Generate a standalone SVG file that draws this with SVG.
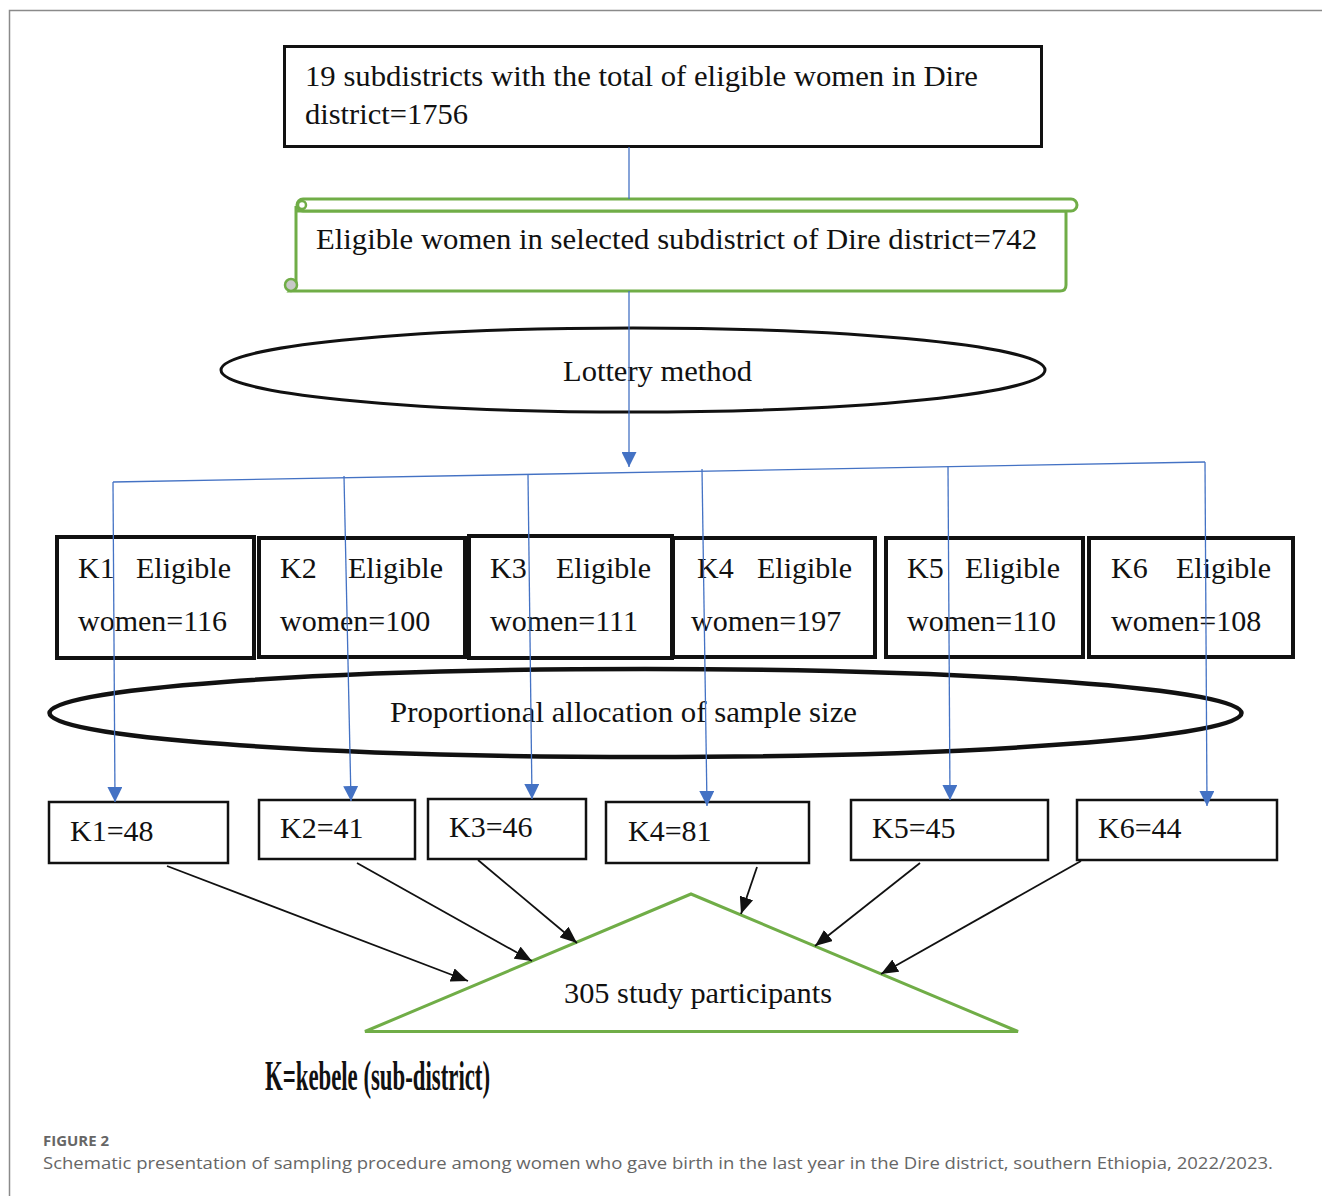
<svg xmlns="http://www.w3.org/2000/svg" width="1322" height="1196" viewBox="0 0 1322 1196">
<defs>
<style>
.t{font-family:"Liberation Serif","Times New Roman",serif;font-size:30px;fill:#111}
.box{fill:#fff;stroke:#111}
.green{fill:#fff;stroke:#70AD47;stroke-width:3}
.blue{stroke:#4472C4;stroke-width:1.3;fill:none}
.blk{stroke:#111;stroke-width:1.8;fill:none}
.cap{font-family:"Open Sans","Noto Sans",sans-serif;fill:#666}
</style>
<marker id="ab" markerUnits="userSpaceOnUse" markerWidth="16" markerHeight="15" refX="15" refY="7.5" orient="auto" viewBox="0 0 16 15">
<path d="M0,0 L15,7.5 L0,15 z" fill="#4472C4"/>
</marker>
<marker id="ak" markerUnits="userSpaceOnUse" markerWidth="18" markerHeight="14" refX="17" refY="7" orient="auto" viewBox="0 0 18 14">
<path d="M0,0 L17,7 L0,14 z" fill="#111"/>
</marker>
</defs>
<rect width="1322" height="1196" fill="#fff"/>
<g id="frame" stroke="#8a8a8a" stroke-width="1.5" fill="none">
<path d="M1322,10.5 L9.5,10.5 L9.5,1196"/>
</g>

<g id="n-top">
<rect class="box" x="284.5" y="46.5" width="757" height="100" stroke-width="3"/>
<text class="t" x="305" y="86" textLength="673" lengthAdjust="spacingAndGlyphs">19 subdistricts with the total of eligible women in Dire</text>
<text class="t" x="305" y="124" textLength="163" lengthAdjust="spacingAndGlyphs">district=1756</text>
</g>

<g id="n-scroll">
<path class="green" d="M296,206 L296,285 L290,291 L1060,291 Q1066,291 1066,285 L1066,211 L296,211 Z"/>
<rect class="green" x="297" y="199" width="780" height="12" rx="6"/>
<circle cx="302" cy="205" r="4" fill="#fff" stroke="#70AD47" stroke-width="2.5"/>
<circle cx="291" cy="285" r="6" fill="#c8c8c8" stroke="#70AD47" stroke-width="2.5"/>
<text class="t" x="316" y="249" textLength="721" lengthAdjust="spacingAndGlyphs">Eligible women in selected subdistrict of Dire district=742</text>
</g>

<g id="n-lottery">
<ellipse cx="633" cy="370" rx="412" ry="42" fill="#fff" stroke="#111" stroke-width="3"/>
<text class="t" x="563" y="381" textLength="189" lengthAdjust="spacingAndGlyphs">Lottery method</text>
</g>

<g id="n-k1">
<rect class="box" x="57" y="537" width="197" height="121" stroke-width="4"/>
<text class="t" y="578"><tspan x="78">K1</tspan><tspan x="136">Eligible</tspan></text>
<text class="t" x="78" y="631">women=116</text>
</g>
<g id="n-k2">
<rect class="box" x="259" y="538" width="206" height="119" stroke-width="4"/>
<text class="t" y="578"><tspan x="280">K2</tspan><tspan x="348">Eligible</tspan></text>
<text class="t" x="280" y="631">women=100</text>
</g>
<g id="n-k3">
<rect class="box" x="469" y="536" width="203" height="122" stroke-width="4"/>
<text class="t" y="578"><tspan x="490">K3</tspan><tspan x="556">Eligible</tspan></text>
<text class="t" x="490" y="631">women=111</text>
</g>
<g id="n-k4">
<rect class="box" x="673" y="538" width="202" height="119" stroke-width="4"/>
<text class="t" y="578"><tspan x="697">K4</tspan><tspan x="757">Eligible</tspan></text>
<text class="t" x="691" y="631">women=197</text>
</g>
<g id="n-k5">
<rect class="box" x="886" y="538" width="197" height="119" stroke-width="4"/>
<text class="t" y="578"><tspan x="907">K5</tspan><tspan x="965">Eligible</tspan></text>
<text class="t" x="907" y="631">women=110</text>
</g>
<g id="n-k6">
<rect class="box" x="1089" y="538" width="204" height="119" stroke-width="4"/>
<text class="t" y="578"><tspan x="1111">K6</tspan><tspan x="1176">Eligible</tspan></text>
<text class="t" x="1111" y="631">women=108</text>
</g>

<g id="n-prop">
<ellipse cx="645.5" cy="713" rx="596" ry="44" fill="none" stroke="#111" stroke-width="4.5"/>
<text class="t" x="390" y="722" textLength="467" lengthAdjust="spacingAndGlyphs">Proportional allocation of sample size</text>
</g>

<g id="n-b1"><rect class="box" x="49" y="802" width="179" height="61" stroke-width="2.5"/><text class="t" x="70" y="841">K1=48</text></g>
<g id="n-b2"><rect class="box" x="259" y="800" width="156" height="59" stroke-width="2.5"/><text class="t" x="280" y="838">K2=41</text></g>
<g id="n-b3"><rect class="box" x="428" y="799" width="158" height="60" stroke-width="2.5"/><text class="t" x="449" y="837">K3=46</text></g>
<g id="n-b4"><rect class="box" x="606" y="802" width="203" height="61" stroke-width="2.5"/><text class="t" x="628" y="841">K4=81</text></g>
<g id="n-b5"><rect class="box" x="851" y="800" width="197" height="60" stroke-width="2.5"/><text class="t" x="872" y="838">K5=45</text></g>
<g id="n-b6"><rect class="box" x="1077" y="800" width="200" height="60" stroke-width="2.5"/><text class="t" x="1098" y="838">K6=44</text></g>

<g id="n-total">
<path d="M365,1031.5 L691,894 L1018,1031.5 Z" fill="#fff" stroke="#70AD47" stroke-width="3"/>
<text class="t" x="564" y="1003" textLength="268" lengthAdjust="spacingAndGlyphs">305 study participants</text>
</g>

<g id="connectors">
<line class="blue" x1="629" y1="147" x2="629" y2="199"/>
<line class="blue" x1="629" y1="291" x2="629" y2="467" marker-end="url(#ab)"/>
<line class="blue" x1="113" y1="482" x2="1205" y2="462"/>
<line class="blue" x1="113" y1="482" x2="115" y2="802" marker-end="url(#ab)"/>
<line class="blue" x1="344" y1="476" x2="351" y2="801" marker-end="url(#ab)"/>
<line class="blue" x1="528" y1="475" x2="532" y2="799" marker-end="url(#ab)"/>
<line class="blue" x1="702" y1="469" x2="707" y2="806" marker-end="url(#ab)"/>
<line class="blue" x1="948" y1="466" x2="950" y2="800" marker-end="url(#ab)"/>
<line class="blue" x1="1205" y1="462" x2="1207" y2="806" marker-end="url(#ab)"/>
<line class="blk" x1="167" y1="866" x2="468" y2="981" marker-end="url(#ak)"/>
<line class="blk" x1="357" y1="863" x2="532" y2="961" marker-end="url(#ak)"/>
<line class="blk" x1="478" y1="860" x2="577" y2="943" marker-end="url(#ak)"/>
<line class="blk" x1="757" y1="867" x2="741" y2="914" marker-end="url(#ak)"/>
<line class="blk" x1="920" y1="863" x2="815" y2="946" marker-end="url(#ak)"/>
<line class="blk" x1="1081" y1="861" x2="881" y2="974" marker-end="url(#ak)"/>
</g>

<text x="265" y="1090" font-family="'Liberation Serif','Times New Roman',serif" font-weight="bold" font-size="42" fill="#111" textLength="225" lengthAdjust="spacingAndGlyphs">K=kebele (sub-district)</text>

<text class="cap" x="43" y="1146" font-size="14" font-weight="700" textLength="66" lengthAdjust="spacingAndGlyphs">FIGURE 2</text>
<text class="cap" x="43" y="1169" font-size="17" textLength="1230" lengthAdjust="spacingAndGlyphs">Schematic presentation of sampling procedure among women who gave birth in the last year in the Dire district, southern Ethiopia, 2022/2023.</text>
</svg>
